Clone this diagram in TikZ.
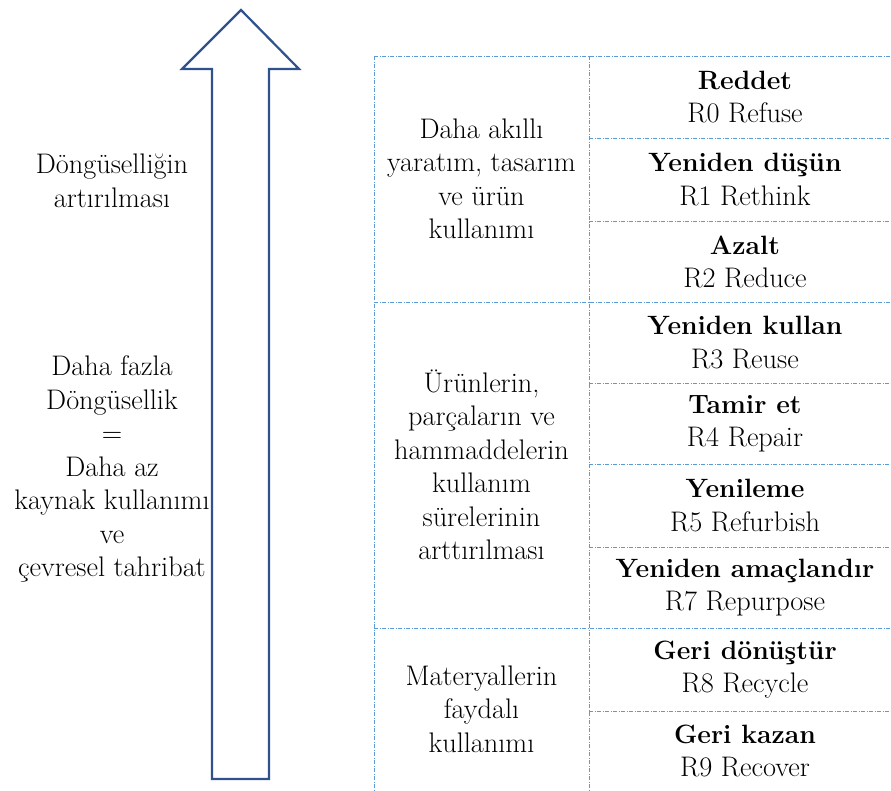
\documentclass[tikz,border=0pt]{standalone}
\usepackage{fontspec}
\definecolor{arrowblue}{HTML}{2F528F}
\definecolor{gridblue}{HTML}{5B9BD5}
\newcommand{\rname}[1]{{\fontsize{26.5}{33.5}\selectfont\bfseries #1}}
\begin{document}
\begin{tikzpicture}[x=1pt,y=-1pt]
    \tikzset{txt/.style={align=center, inner sep=0pt, font=\fontsize{28.3}{33.5}\selectfont},
             grid/.style={draw=gridblue, line width=0.8pt, dash pattern=on 4pt off 1.5pt on 1pt off 1.5pt}}
    \clip (0,0) rectangle (891,790);
    % left side texts
    \node[txt] (goal) at (112,181) {Döngüselliğin\\artırılması};
    \node[txt] (more) at (112,469) {Daha fazla\\Döngüsellik\\=\\Daha az\\kaynak kullanımı\\ve\\çevresel tahribat};
    % big arrow
    \draw[arrowblue, line width=2.2pt, fill=white, line join=miter]
        (241,10) -- (299,69) -- (269,69) -- (269,779) -- (212,779) -- (212,69) -- (182,69) -- cycle;
    % table lines
    \draw[grid] (374,56) -- (905,56);
    \draw[grid] (374,56) -- (374,800);
    \draw[grid] (589,56) -- (589,800);
    \draw[grid] (374,302.5) -- (905,302.5);
    \draw[grid] (374,628) -- (905,628);
    \draw[grid] (589,138) -- (905,138);
    \draw[grid] (589,221) -- (905,221);
    \draw[grid] (589,383) -- (905,383);
    \draw[grid] (589,464) -- (905,464);
    \draw[grid] (589,547) -- (905,547);
    \draw[grid] (589,711) -- (905,711);
    % groups
    \node[txt] (smart) at (481.5,179) {Daha akıllı\\yaratım, tasarım\\ve ürün\\kullanımı};
    \node[txt] (life) at (481.5,465) {Ürünlerin,\\parçaların ve\\hammaddelerin\\kullanım\\sürelerinin\\arttırılması};
    \node[txt] (useful) at (481.5,709) {Materyallerin\\faydalı\\kullanımı};
    % R strategies
    \node[txt] (r0) at (745,97) {\rname{Reddet}\\R0 Refuse};
    \node[txt] (r1) at (745,179.5) {\rname{Yeniden düşün}\\R1 Rethink};
    \node[txt] (r2) at (745,261.75) {\rname{Azalt}\\R2 Reduce};
    \node[txt] (r3) at (745,342.75) {\rname{Yeniden kullan}\\R3 Reuse};
    \node[txt] (r4) at (745,423.5) {\rname{Tamir et}\\R4 Repair};
    \node[txt] (r5) at (745,505.5) {\rname{Yenileme}\\R5 Refurbish};
    \node[txt] (r7) at (745,587.5) {\rname{Yeniden amaçlandır}\\R7 Repurpose};
    \node[txt] (r8) at (745,669.5) {\rname{Geri dönüştür}\\R8 Recycle};
    \node[txt] (r9) at (745,751) {\rname{Geri kazan}\\R9 Recover};
\end{tikzpicture}
\end{document}
